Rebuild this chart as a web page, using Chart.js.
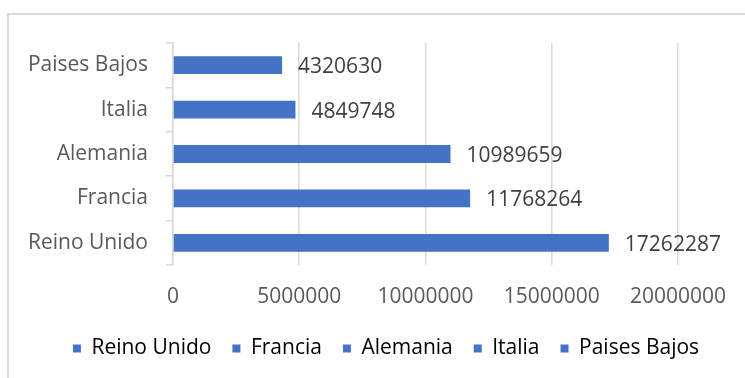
<!DOCTYPE html>
<html>
<head>
<meta charset="utf-8">
<script src="https://cdn.jsdelivr.net/npm/chart.js@4"></script>
<style>
  html, body { margin: 0; padding: 0; background: #fff; overflow: hidden; }
  #frame {
    position: absolute; left: 7px; top: 13px;
    width: 800px; height: 420px;
    border: 2px solid #d9d9d9;
  }
  #wrap { position: absolute; left: 0; top: 0; width: 745px; height: 378px; }
</style>
</head>
<body>
<div id="frame"></div>
<div id="wrap"><canvas id="chart" width="745" height="378"></canvas></div>
<script>
  // population by country (Excel style horizontal bars)
  const countries = ['Reino Unido', 'Francia', 'Alemania', 'Italia', 'Paises Bajos'];
  const population = [17262287, 11768264, 10989659, 4849748, 4320630];
  const xTicks = [0, 5000000, 10000000, 15000000, 20000000];

  const barColor = '#4472C4';
  const textColor = '#595959';

  Chart.defaults.font.family = "'Open Sans', sans-serif";
  Chart.defaults.font.size = 21;
  Chart.defaults.color = textColor;

  // value text to the right of each bar
  const valueLabels = {
    id: 'valueLabels',
    afterDatasetsDraw(chart) {
      const ctx = chart.ctx;
      const meta = chart.getDatasetMeta(0);
      ctx.save();
      ctx.font = "21px 'Open Sans', sans-serif";
      ctx.fillStyle = '#404040';
      ctx.textAlign = 'left';
      ctx.textBaseline = 'middle';
      meta.data.forEach((bar, i) => {
        ctx.fillText(String(population[i]), bar.x + 16, bar.y + 2);
      });
      ctx.restore();
    }
  };

  // the legend box stops at the right padding, so centre it on the whole frame instead
  const legendShift = {
    id: 'legendShift',
    afterLayout(chart) {
      const lg = chart.legend;
      if (!lg) return;
      lg.left += 46;
      lg.right += 46;
    }
  };

  new Chart(document.getElementById('chart'), {
    type: 'bar',
    data: {
      labels: countries,
      datasets: [{
        data: population,
        backgroundColor: barColor,
        barPercentage: 0.4,
        categoryPercentage: 1
      }]
    },
    options: {
      indexAxis: 'y',
      responsive: false,
      animation: false,
      layout: { padding: { top: 43, right: 65, left: 0, bottom: 9 } },
      scales: {
        x: {
          min: 0,
          max: 20000000,
          afterBuildTicks: scale => { scale.ticks = xTicks.map(v => ({ value: v })); },
          afterFit: scale => { scale.height = 52; },
          ticks: {
            padding: 19,
            maxRotation: 0,
            callback: value => String(value)
          },
          grid: { color: '#d9d9d9', lineWidth: 1.5, drawTicks: false },
          border: { display: false }
        },
        y: {
          reverse: true,
          afterFit: scale => { scale.width = 173; },
          ticks: { padding: 18 },
          grid: {
            offset: true,
            drawOnChartArea: false,
            drawTicks: true,
            tickLength: 7,
            color: '#d9d9d9',
            lineWidth: 1.5
          },
          border: { display: true, color: '#d9d9d9', width: 1.5 }
        }
      },
      plugins: {
        legend: {
          position: 'bottom',
          onClick: null,
          labels: {
            boxWidth: 8,
            boxHeight: 8,
            padding: 21,
            color: textColor,
            generateLabels: chart => chart.data.labels.map((name, i) => ({
              text: name,
              fillStyle: barColor,
              strokeStyle: barColor,
              lineWidth: 0,
              hidden: false,
              index: i,
              datasetIndex: 0
            }))
          }
        },
        tooltip: { enabled: false }
      }
    },
    plugins: [valueLabels, legendShift]
  });
</script>
</body>
</html>
